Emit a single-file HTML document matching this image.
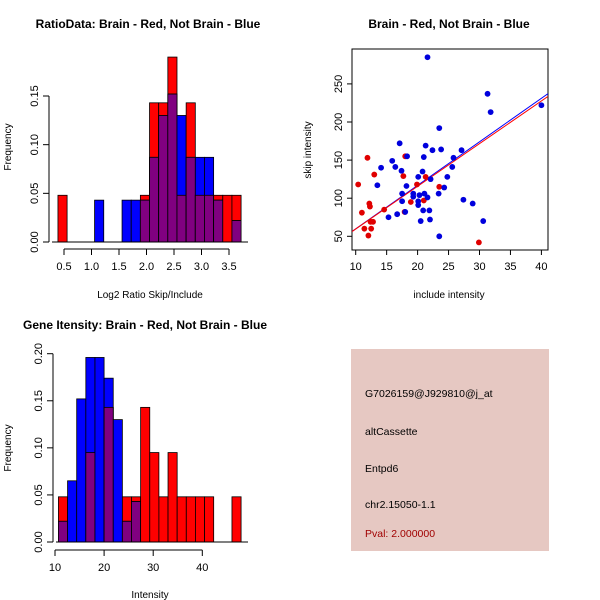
<!DOCTYPE html>
<html><head><meta charset="utf-8"><style>
body{margin:0;background:#fff}
svg{display:block;font-family:"Liberation Sans",sans-serif}
</style></head><body>
<svg id="c" width="600" height="600" viewBox="0 0 600 600">
<rect width="600" height="600" fill="#fff"/>
<text x="148" y="28" text-anchor="middle" font-size="12" font-weight="bold">RatioData: Brain - Red, Not Brain - Blue</text>
<text x="449" y="28" text-anchor="middle" font-size="12" font-weight="bold">Brain - Red, Not Brain - Blue</text>
<text x="145" y="329" text-anchor="middle" font-size="12" font-weight="bold">Gene Itensity: Brain - Red, Not Brain - Blue</text>
<text x="150" y="298" text-anchor="middle" font-size="10">Log2 Ratio Skip/Include</text>
<text transform="translate(11,147) rotate(-90)" text-anchor="middle" font-size="10">Frequency</text>
<text x="449" y="298" text-anchor="middle" font-size="10">include intensity</text>
<text transform="translate(311,150) rotate(-90)" text-anchor="middle" font-size="10">skip intensity</text>
<text x="150" y="598" text-anchor="middle" font-size="10">Intensity</text>
<text transform="translate(11,448) rotate(-90)" text-anchor="middle" font-size="10">Frequency</text>
<g>
<rect x="351" y="349" width="198" height="202" fill="#e6c8c2"/>
<text x="365" y="397" font-size="10.5">G7026159@J929810@j_at</text>
<text x="365" y="435" font-size="10.5">altCassette</text>
<text x="365" y="472" font-size="10.5">Entpd6</text>
<text x="365" y="508" font-size="10.5">chr2.15050-1.1</text>
<text x="365" y="537" font-size="10.5" fill="#a00000">Pval: 2.000000</text>
</g>
<g id="g1"></g>
<g id="g2"></g>
<g id="g3"></g>
</svg>
<script>
// Ratio histogram data
const ratioBinStart = 0.39, ratioBinWidth = 0.1665;
const ratioRed  = [0.048,0,0,0,0,0,0,0,0,0.048,0.143,0.143,0.19,0.048,0.143,0.048,0.048,0.048,0.048,0.048];
const ratioBlue = [0,0,0,0,0.043,0,0,0.043,0.043,0.043,0.087,0.13,0.152,0.13,0.087,0.087,0.087,0.043,0,0.022];
const ratioYTicks = [0,0.05,0.10,0.15];
const ratioYLabels = ["0.00","0.05","0.10","0.15"];
const ratioXTicks = [0.5,1.0,1.5,2.0,2.5,3.0,3.5];
const ratioXLabels = ["0.5","1.0","1.5","2.0","2.5","3.0","3.5"];
// Intensity histogram data
const intBinStart = 10.7, intBinWidth = 1.86;
const intRed  = [0.048,0,0,0.095,0,0.143,0,0.048,0.048,0.143,0.095,0.048,0.095,0.048,0.048,0.048,0.048,0,0,0.048];
const intBlue = [0.022,0.065,0.152,0.196,0.196,0.174,0.13,0.022,0.043,0,0,0,0,0,0,0,0,0,0,0];
const intYTicks = [0,0.05,0.10,0.15,0.20];
const intYLabels = ["0.00","0.05","0.10","0.15","0.20"];
const intXTicks = [10,20,30,40];
const intXLabels = ["10","20","30","40"];
// Scatter data
const redInclude = [10.4,11.0,11.4,11.9,12.05,12.2,12.3,12.4,12.5,12.8,13.0,14.6,17.7,17.9,18.0,18.9,19.9,21.0,21.3,23.5,29.9];
const redSkip    = [118,81,60,153,51,93,89,69,60,69,131,85,129,82,155,95,118,97,128,115,42];
const blueInclude= [13.5,14.1,15.3,15.9,16.4,16.7,17.1,17.4,17.5,17.5,18.0,18.2,18.3,19.3,19.3,20.1,20.1,20.1,20.5,20.8,20.9,21.0,21.1,21.3,21.6,21.6,21.9,22.0,22.1,22.4,23.4,23.5,23.5,23.8,24.3,24.8,25.6,25.8,27.1,27.4,28.9,30.6,31.3,31.8,40.0,20.3];
const blueSkip   = [117,140,75,149,141,79,172,136,106,96,82,116,155,106,102,128,96,91,70,135,84,154,106,169,101,285,84,72,125,163,106,50,192,164,114,128,141,153,163,98,93,70,237,213,222,104];
const blueFit = [2.7,5.71];
const redFit  = [3.6,5.6];
const scXTicks = [10,15,20,25,30,35,40];
const scXLabels = ["10","15","20","25","30","35","40"];
const scYTicks = [50,100,150,200,250];
const scYLabels = ["50","100","150","200","250"];

const NS="http://www.w3.org/2000/svg";
function mk(parent,tag,attrs){const e=document.createElementNS(NS,tag);for(const k in attrs)e.setAttribute(k,attrs[k]);parent.appendChild(e);return e;}

function hist(g,start,w,red,blue,xs,ys,yT,yL,xT,xL,xAxisY,yAxisX,xEnd,pref){
  for(let i=0;i<red.length;i++){
    const x0=xs(start+i*w),x1=xs(start+(i+1)*w);
    const r=red[i],b=blue[i],m=Math.min(r,b);
    if(r>0){const e=mk(g,'rect',{x:x0,y:ys(r),width:x1-x0,height:ys(0)-ys(r),fill:'#ff0000',stroke:'#000','stroke-width':0.8});
      
      }
    if(b>0){const e=mk(g,'rect',{x:x0,y:ys(b),width:x1-x0,height:ys(0)-ys(b),fill:'#0000ff',stroke:'#000','stroke-width':0.8});
      
      }
    if(m>0){const e=mk(g,'rect',{x:x0,y:ys(m),width:x1-x0,height:ys(0)-ys(m),fill:'#800080',stroke:'#000','stroke-width':0.8});
      
      }
  }
  const base=mk(g,'line',{x1:yAxisX+3,x2:xEnd,y1:ys(0),y2:ys(0),stroke:'#000'});
  
  
  const ya=mk(g,'line',{x1:yAxisX,x2:yAxisX,y1:ys(yT[0]),y2:ys(yT[yT.length-1]),stroke:'#000'});
  
  
  yT.forEach((v,i)=>{mk(g,'line',{x1:yAxisX-6,x2:yAxisX,y1:ys(v),y2:ys(v),stroke:'#000'});
    const t=mk(g,'text',{transform:`translate(${yAxisX-11},${ys(v)}) rotate(-90)`,'text-anchor':'middle','font-size':11});
    t.textContent=yL[i];
    
    });
  const xa=mk(g,'line',{x1:xs(xT[0]),x2:xs(xT[xT.length-1]),y1:xAxisY,y2:xAxisY,stroke:'#000'});
  
  
  xT.forEach((v,i)=>{mk(g,'line',{x1:xs(v),x2:xs(v),y1:xAxisY,y2:xAxisY+6,stroke:'#000'});
    const t=mk(g,'text',{x:xs(v),y:xAxisY+21,'text-anchor':'middle','font-size':11});
    t.textContent=xL[i];
    
    });
}
// panel 1
{const xs=v=>64+(v-0.5)*55, ys=v=>242-v*973.3;
 hist(document.getElementById('g1'),ratioBinStart,ratioBinWidth,ratioRed,ratioBlue,xs,ys,ratioYTicks,ratioYLabels,ratioXTicks,ratioXLabels,249,49,248,'ratio');}
// panel 3
{const xs=v=>55+(v-10)*4.91, ys=v=>542-v*941.5;
 hist(document.getElementById('g3'),intBinStart,intBinWidth,intRed,intBlue,xs,ys,intYTicks,intYLabels,intXTicks,intXLabels,550,53,248,'intensity');}
// panel 2
{const g=document.getElementById('g2');
 const xs=v=>355.7+(v-10)*6.19, ys=v=>236.3-(v-50)*0.762;
 const L=352,R=548,T=49,B=250;
 mk(g,'defs',{}).innerHTML='<clipPath id="cp"><rect x="352" y="49" width="196" height="201"/></clipPath>';
 const box=mk(g,'rect',{x:L,y:T,width:R-L,height:B-T,fill:'none',stroke:'#000'});
 
 
 const xl=(L-355.7)/6.19+10, xr=(R-355.7)/6.19+10;
 [[blueFit,'#0000ff','blue-fit-line'],[redFit,'#ff0000','red-fit-line']].forEach(([f,c,n])=>{
   const l=mk(g,'line',{x1:xs(xl),y1:ys(f[0]+f[1]*xl),x2:xs(xr),y2:ys(f[0]+f[1]*xr),stroke:c,'clip-path':'url(#cp)'});
   
   });
 redInclude.forEach((v,i)=>{const c=mk(g,'circle',{cx:xs(v),cy:ys(redSkip[i]),r:2.9,fill:'#e00000'});
   
   });
 blueInclude.forEach((v,i)=>{const c=mk(g,'circle',{cx:xs(v),cy:ys(blueSkip[i]),r:2.9,fill:'#0000dd'});
   
   });
 scXTicks.forEach((v,i)=>{mk(g,'line',{x1:xs(v),x2:xs(v),y1:B,y2:B+5,stroke:'#000'});
   const t=mk(g,'text',{x:xs(v),y:B+20,'text-anchor':'middle','font-size':11});
   t.textContent=scXLabels[i];
   
   });
 scYTicks.forEach((v,i)=>{mk(g,'line',{x1:L-5,x2:L,y1:ys(v),y2:ys(v),stroke:'#000'});
   const t=mk(g,'text',{transform:`translate(${L-10},${ys(v)}) rotate(-90)`,'text-anchor':'middle','font-size':11});
   t.textContent=scYLabels[i];
   
   });
}
</script>
</body></html>
